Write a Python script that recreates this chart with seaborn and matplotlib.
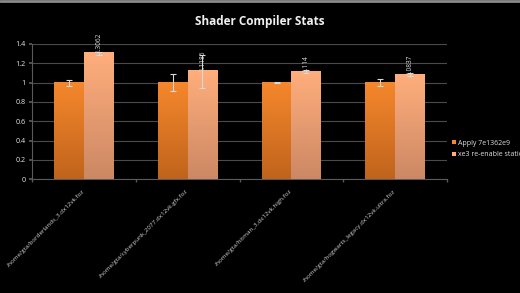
import numpy as np
import pandas as pd
import matplotlib
matplotlib.use("Agg")
import matplotlib.pyplot as plt
import seaborn as sns
from matplotlib.colors import LinearSegmentedColormap
from matplotlib.lines import Line2D

categories = [
    "/home/gta/borderlands_3.dx12vk.foz",
    "/home/gta/cyberpunk_2077.dx12vk.gfx.foz",
    "/home/gta/hitman_3.dx12vk.high.foz",
    "/home/gta/hogwarts_legacy.dx12vk.ultra.foz",
]
series_names = ["Apply 7e1362e9", "xe3 re-enable static"]
apply_vals = [1.0, 1.0, 1.0, 1.0]
apply_err = [0.03, 0.09, 0.005, 0.035]
xe3_vals = [1.3062, 1.1186, 1.114, 1.0837]
xe3_err = [0.015, 0.17, 0.012, 0.012]
xe3_labels = ["1.3062", "1.1186", "1.114", "1.0837"]
yticks = [0, 0.2, 0.4, 0.6, 0.8, 1.0, 1.2, 1.4]
ytick_labels = ["0", "0.2", "0.4", "0.6", "0.8", "1", "1.2", "1.4"]

df = pd.DataFrame({
    "file": categories * 2,
    "series": [series_names[0]] * 4 + [series_names[1]] * 4,
    "value": apply_vals + xe3_vals,
})

sns.set_theme(style="dark")
plt.rcParams["font.family"] = ["Open Sans", "DejaVu Sans"]

fig = plt.figure(figsize=(5.2, 2.93), dpi=100, facecolor="black")
ax = fig.add_axes([32 / 520, 1 - 179.3 / 293, (447 - 32) / 520, (179.3 - 44) / 293])
ax.set_facecolor("black")

top_cols = ["#F5872C", "#FFAE7C"]
bot_cols = ["#C0641C", "#CC8864"]

sns.barplot(data=df, x="file", y="value", hue="series", hue_order=series_names,
            palette=top_cols, width=0.573, ax=ax, legend=False, errorbar=None,
            saturation=1, linewidth=0, zorder=3)

ax.set_ylim(0, 1.4)
ax.set_xlim(-0.5, 3.5)

errs = [apply_err, xe3_err]
bar_containers = list(ax.containers)
for si, cont in enumerate(bar_containers):
    cmap = LinearSegmentedColormap.from_list("g", [bot_cols[si], top_cols[si]])
    for ci, bar in enumerate(cont):
        x0 = bar.get_x()
        w = bar.get_width()
        h = bar.get_height()
        grad = np.linspace(0, 1, 64).reshape(-1, 1)
        ax.imshow(grad, extent=[x0, x0 + w, 0, h], origin="lower", aspect="auto",
                  cmap=cmap, zorder=3.5, interpolation="bilinear")
        xc = x0 + w / 2
        ax.errorbar(xc, h, yerr=errs[si][ci], color="#D8D8D8", elinewidth=0.8,
                    capsize=2, capthick=0.8, zorder=5)
        if si == 1:
            ax.text(xc, h, xe3_labels[ci], rotation=90, ha="center", va="bottom",
                    fontsize=4.7, color="#E0E0E0", zorder=6)

ax.set_ylim(0, 1.4)
ax.set_xlim(-0.5, 3.5)
ax.set_yticks(yticks)
ax.set_yticklabels(ytick_labels, fontsize=5.2, color="#E8E8E8")
ax.yaxis.grid(True, color="#4A4A4A", linewidth=0.8, zorder=0)
ax.xaxis.grid(False)
ax.tick_params(axis="y", length=2.5, color="#5A5A5A", pad=2, left=True)

ax.set_xticks([0, 1, 2, 3])
ax.set_xticklabels(categories, rotation=45, ha="right", va="center",
                   rotation_mode="anchor", fontsize=4.5, color="#D0D0D0")
ax.tick_params(axis="x", length=0, pad=8)
ax.set_xticks([-0.5, 0.5, 1.5, 2.5, 3.5], minor=True)
ax.tick_params(axis="x", which="minor", length=2.5, color="#5A5A5A", bottom=True)
ax.set_xlabel("")
ax.set_ylabel("")

for side in ["top", "right"]:
    ax.spines[side].set_visible(False)
for side in ["left", "bottom"]:
    ax.spines[side].set_visible(True)
    ax.spines[side].set_color("#5A5A5A")
    ax.spines[side].set_linewidth(0.8)

fig.suptitle("Shader Compiler Stats", x=0.5, y=1 - 22 / 293, va="center",
             fontsize=8.5, fontweight="bold", color="#F0F0F0")

handles = [Line2D([0], [0], marker="s", linestyle="none", markersize=3.5,
                  markerfacecolor=top_cols[i], markeredgewidth=0) for i in range(2)]
fig.legend(handles, series_names, loc="center left", bbox_to_anchor=(451 / 520, 1 - 149 / 293),
           frameon=False, fontsize=5, labelcolor="#E0E0E0", handletextpad=0.2,
           handlelength=0.8, labelspacing=0.6, borderaxespad=0, borderpad=0)

fig.add_artist(Line2D([0, 1], [1 - 1 / 293, 1 - 1 / 293], color="#8A8A8A",
                      linewidth=2, transform=fig.transFigure))

fig.savefig("out.png", dpi=100, facecolor="black")
